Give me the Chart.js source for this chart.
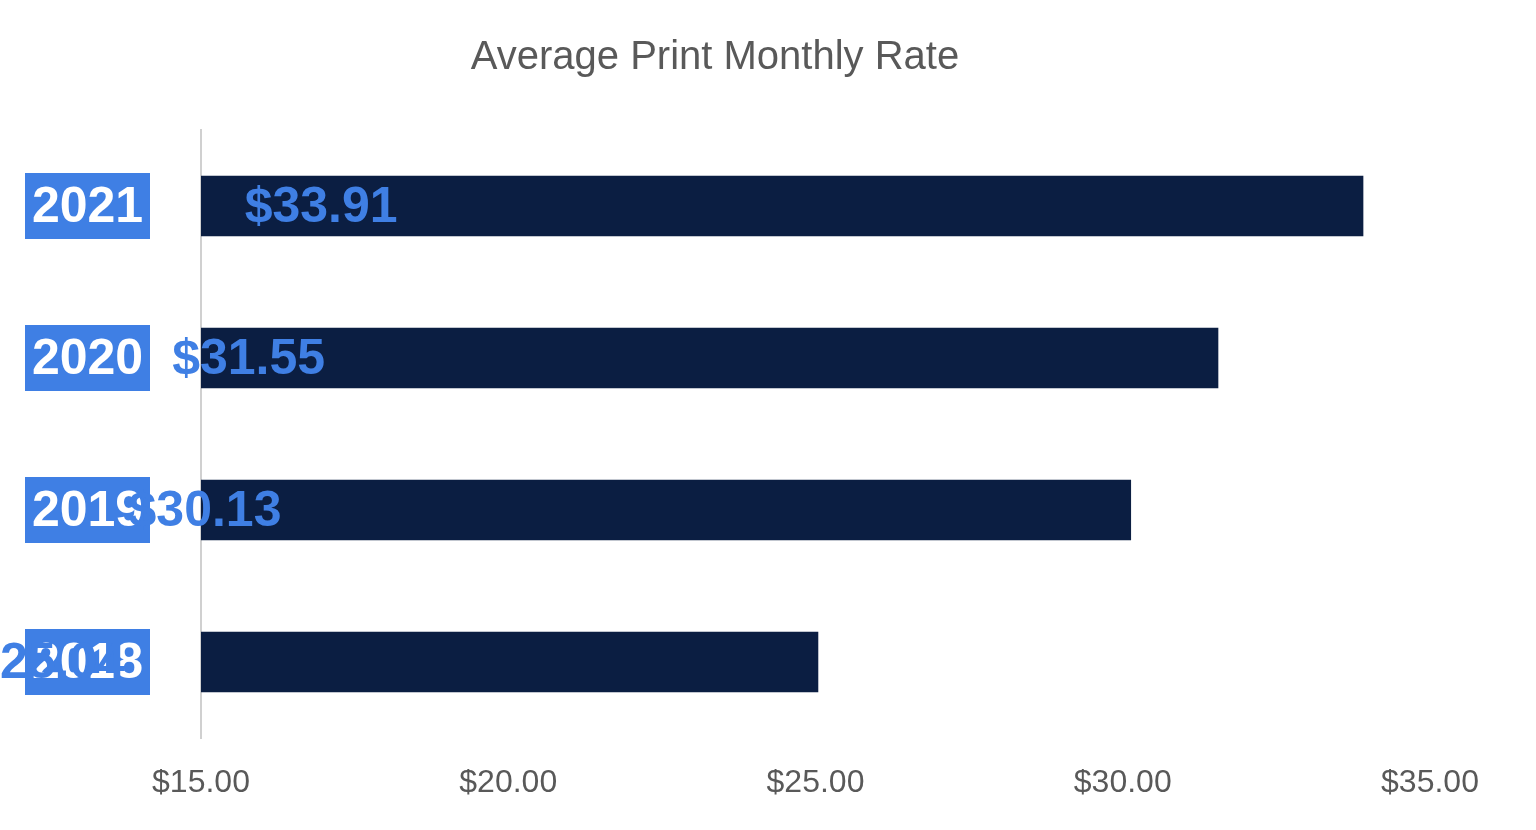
<!DOCTYPE html>
<html><head><meta charset="utf-8">
<script src="https://cdn.jsdelivr.net/npm/chart.js@4"></script>
<style>html,body{margin:0;background:#fff}#w{width:1536px;height:830px}</style>
</head><body><div id="w"><canvas id="c"></canvas></div>
<script>
const categories = ["2021","2020","2019","2018"];
const values = [33.91,31.55,30.13,25.04];
const xTicks = [15,20,25,30,35];

const labelPlugin = {
  id:'lbl',
  afterDatasetsDraw(chart){
    const ctx=chart.ctx, y=chart.scales.y, meta=chart.getDatasetMeta(0);
    ctx.save();
    ctx.font='bold 50px "Liberation Sans", Arial, sans-serif';
    ctx.textBaseline='middle';
    categories.forEach((c,i)=>{
      const py=y.getPixelForValue(i);
      ctx.fillStyle='#3f7fe4';
      ctx.fillRect(25,py-33,125,66);
      ctx.fillStyle='#ffffff';
      ctx.textAlign='center';
      ctx.fillText(c,87.5,py+2);
      const bar=meta.data[i];
      const cx=(bar.base+bar.x)/2;
      ctx.fillStyle='#3f7fe4';
      ctx.fillText('$'+values[i].toFixed(2),cx,py+2);
    });
    ctx.restore();
  }
};

new Chart(document.getElementById('c'),{
  type:'bar',
  data:{labels:categories,datasets:[{data:values,backgroundColor:'#0b1e42',barThickness:60}]},
  options:{
    indexAxis:'y',responsive:true,maintainAspectRatio:false,animation:false,
    layout:{padding:{left:0,right:106,bottom:0}},
    plugins:{legend:{display:false},tooltip:{enabled:false},
      title:{display:true,text:'Average Print Monthly Rate',color:'#595959',
        font:{size:40,family:'"Liberation Sans", Arial, sans-serif',weight:'normal'},padding:{top:34,bottom:48}}},
    scales:{
      x:{min:15,max:35,afterBuildTicks(s){s.ticks=xTicks.map(v=>({value:v}));},
        grid:{display:false,drawTicks:false},border:{display:false},
        ticks:{color:'#595959',padding:26,font:{size:32,family:'"Liberation Sans", Arial, sans-serif'},callback:v=>'$'+Number(v).toFixed(2)},
        afterFit(s){s.height=92;}},
      y:{ticks:{display:false},grid:{display:false,drawTicks:false},border:{color:'#d0d0d0',width:2},
        afterFit(s){s.width=201;}}
    }
  },
  plugins:[labelPlugin]
});
</script></body></html>
